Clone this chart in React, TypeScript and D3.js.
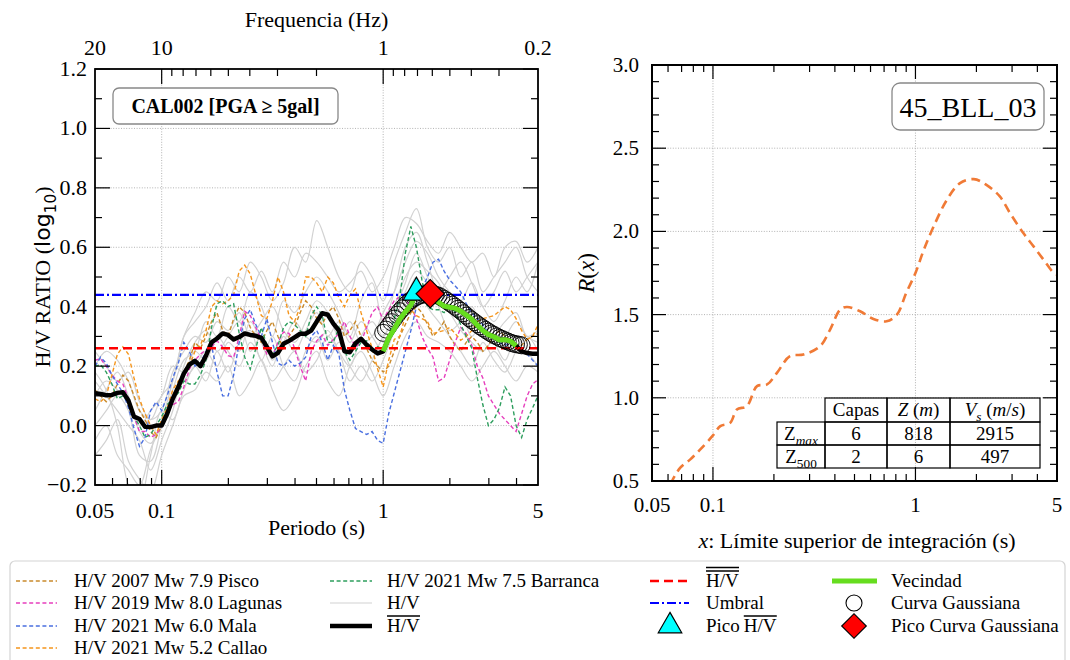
import React, { useEffect, useRef } from "react";
import * as d3 from "d3";

const W = 1070;
const H = 660;
const SERIF = "'Liberation Serif', 'Times New Roman', serif";

// ---------------- LEFT PANEL DATA ----------------
const periods = [
  0.05, 0.053, 0.0562, 0.0596, 0.0631, 0.0668, 0.0708, 0.075, 0.0794, 0.0841, 0.0891, 0.0944, 0.1,
  0.1059, 0.1122, 0.1189, 0.1259, 0.1334, 0.1413, 0.1496, 0.1585, 0.1679, 0.1778, 0.1884, 0.1995,
  0.2113, 0.2239, 0.2371, 0.2512, 0.2661, 0.2818, 0.2985, 0.3162, 0.335, 0.3548, 0.3758, 0.3981,
  0.4217, 0.4467, 0.4732, 0.5012, 0.5309, 0.5623, 0.5957, 0.631, 0.6683, 0.7079, 0.7499, 0.7943,
  0.8414, 0.8913, 0.9441, 1.0,
  1.0593, 1.122, 1.1885, 1.2589, 1.3335, 1.4125, 1.4962, 1.5849, 1.6788, 1.7783, 1.8836, 1.9953,
  2.1135, 2.2387, 2.3714, 2.5119, 2.6607, 2.8184, 2.9854, 3.1623, 3.3497, 3.5481, 3.7584, 3.9811,
  4.217, 4.4668, 4.7315, 5.0,
];

const meanHV = [
  0.109, 0.106, 0.102, 0.103, 0.11, 0.112, 0.084, 0.03, 0.022, -0.004,
  -0.005, 0.0, 0.0, 0.04, 0.09, 0.13, 0.175, 0.205, 0.218, 0.2,
  0.235, 0.28, 0.293, 0.31, 0.305, 0.29, 0.298, 0.31, 0.305, 0.302,
  0.295, 0.265, 0.233, 0.245, 0.275, 0.285, 0.297, 0.309, 0.309, 0.32,
  0.35, 0.378, 0.373, 0.343, 0.32, 0.25, 0.247, 0.277, 0.292, 0.272,
  0.256, 0.243, 0.25, 0.295, 0.325, 0.358, 0.383, 0.405, 0.448, 0.441,
  0.44, 0.435, 0.415, 0.402, 0.398, 0.395, 0.385, 0.372, 0.358, 0.338,
  0.32, 0.306, 0.299, 0.288, 0.289, 0.284, 0.268, 0.25, 0.244, 0.242,
  0.242,
];

const pisco = [
  0.12, 0.1, 0.08, 0.1, 0.14, 0.17, 0.15, 0.1, 0.05, 0.02,
  -0.02, -0.04, 0.0, 0.05, 0.1, 0.14, 0.18, 0.22, 0.28, 0.26,
  0.3, 0.35, 0.38, 0.32, 0.3, 0.36, 0.4, 0.38, 0.33, 0.3,
  0.28, 0.32, 0.35, 0.3, 0.26, 0.3, 0.33, 0.38, 0.42, 0.4,
  0.36, 0.34, 0.38, 0.4, 0.36, 0.3, 0.32, 0.35, 0.3, 0.26,
  0.22, 0.2, 0.18, 0.2, 0.25, 0.3, 0.34, 0.38, 0.4, 0.38,
  0.34, 0.3, 0.32, 0.35, 0.3, 0.27, 0.25, 0.28, 0.3, 0.28,
  0.25, 0.27, 0.3, 0.32, 0.3, 0.28, 0.26, 0.27, 0.29, 0.3,
  0.31,
];

const lagunas = [
  0.22, 0.225, 0.2, 0.17, 0.15, 0.14, 0.09, 0.03, -0.02, -0.02,
  -0.04, -0.03, 0.0, 0.05, 0.07, 0.08, 0.13, 0.19, 0.22, 0.24,
  0.255, 0.265, 0.285, 0.265, 0.235, 0.23, 0.3, 0.385, 0.37, 0.33,
  0.29, 0.24, 0.235, 0.28, 0.315, 0.31, 0.26, 0.2, 0.15, 0.25,
  0.285, 0.305, 0.27, 0.29, 0.31, 0.35, 0.3, 0.265, 0.28, 0.33,
  0.38, 0.4, 0.355, 0.39, 0.42, 0.433, 0.425, 0.4, 0.36, 0.3,
  0.26, 0.23, 0.15, 0.16, 0.22, 0.28, 0.33, 0.31, 0.27, 0.2,
  0.16, 0.1, 0.07, 0.04, 0.02, 0.0, -0.02, 0.04, 0.1, 0.14,
  0.155,
];

const mala = [
  0.2, 0.23, 0.21, 0.17, 0.14, 0.11, 0.06, -0.01, -0.07, -0.04,
  0.05, 0.08, 0.05, 0.1, 0.16, 0.21, 0.28, 0.25, 0.2, 0.21,
  0.25, 0.27, 0.18, 0.1, 0.1, 0.17, 0.28, 0.36, 0.39, 0.34,
  0.3, 0.36, 0.28, 0.21, 0.2, 0.22, 0.2, 0.21, 0.23, 0.3,
  0.32, 0.28, 0.22, 0.27, 0.24, 0.12, 0.05, -0.01, -0.02, -0.03,
  -0.02, -0.05, -0.06, 0.04, 0.11, 0.18, 0.25, 0.32, 0.4, 0.46,
  0.5, 0.55, 0.56, 0.52, 0.49, 0.47, 0.45, 0.41, 0.38, 0.36,
  0.34, 0.31, 0.3, 0.28, 0.27, 0.28, 0.26, 0.25, 0.24, 0.22,
  0.2,
];

const callao = [
  0.09, 0.08, 0.1, 0.17, 0.24, 0.265, 0.24, 0.16, 0.09, 0.04,
  0.0, -0.03, 0.02, 0.06, 0.12, 0.15, 0.17, 0.2, 0.25, 0.27,
  0.32, 0.4, 0.42, 0.41, 0.42, 0.44, 0.52, 0.54, 0.51, 0.44,
  0.37, 0.36, 0.42, 0.5, 0.45, 0.37, 0.35, 0.4, 0.5, 0.5,
  0.48, 0.45, 0.5, 0.48, 0.43, 0.4, 0.44, 0.46, 0.38, 0.32,
  0.26, 0.19, 0.13, 0.22, 0.29, 0.3, 0.37, 0.39, 0.37, 0.36,
  0.35, 0.31, 0.315, 0.32, 0.33, 0.31, 0.287, 0.3, 0.32, 0.35,
  0.36, 0.365, 0.37, 0.385, 0.4, 0.39, 0.36, 0.32, 0.29, 0.3,
  0.34,
];

const barranca = [
  0.2, 0.205, 0.18, 0.14, 0.09, 0.1, 0.08, 0.03, 0.0, -0.04,
  -0.03, 0.0, 0.03, 0.07, 0.09, 0.11, 0.15, 0.14, 0.14, 0.17,
  0.22, 0.33, 0.41, 0.42, 0.4, 0.41, 0.31, 0.23, 0.19, 0.26,
  0.33, 0.27, 0.24, 0.27, 0.33, 0.35, 0.34, 0.32, 0.3, 0.37,
  0.4, 0.37, 0.28, 0.28, 0.33, 0.25, 0.22, 0.25, 0.28, 0.285,
  0.25, 0.265, 0.26, 0.3, 0.36, 0.43, 0.58, 0.67, 0.6, 0.49,
  0.4, 0.39, 0.39, 0.38, 0.41, 0.38, 0.34, 0.3, 0.26, 0.16,
  0.07, 0.0, 0.02, 0.06, 0.13, 0.1, 0.0, -0.04, 0.02, 0.06,
  0.1,
];

const eventNames = [
  "H/V 2007 Mw 7.9 Pisco",
  "H/V 2019 Mw 8.0 Lagunas",
  "H/V 2021 Mw 6.0 Mala",
  "H/V 2021 Mw 5.2 Callao",
  "H/V 2021 Mw 7.5 Barranca",
];
const eventColors = ["#c98a2c", "#e63fbd", "#4a6fe0", "#f5951c", "#2e9e5e"];
const eventSeries = [pisco, lagunas, mala, callao, barranca];

// individual H/V records (grey)
const coarsePeriods = [
  0.05, 0.0562, 0.0631, 0.0708, 0.0794, 0.0891, 0.1, 0.1122, 0.1259, 0.1413, 0.1585, 0.1778,
  0.1995, 0.2239, 0.2512, 0.2818, 0.3162, 0.3548, 0.3981, 0.4467, 0.5012, 0.5623, 0.631, 0.7079,
  0.7943, 0.8913, 1.0, 1.122, 1.2589, 1.4125, 1.5849, 1.7783, 1.9953, 2.2387, 2.5119, 2.8184,
  3.1623, 3.5481, 3.9811, 4.4668, 5.0,
];
const gray1 = [0.05, 0.12, 0.18, 0.1, -0.02, -0.06, 0.02, 0.15, 0.3, 0.38, 0.45, 0.42, 0.5, 0.45, 0.55, 0.5, 0.42, 0.48, 0.6, 0.55, 0.69, 0.6, 0.5, 0.45, 0.55, 0.5, 0.42, 0.55, 0.65, 0.73, 0.6, 0.55, 0.6, 0.5, 0.55, 0.45, 0.5, 0.55, 0.6, 0.5, 0.45];
const gray2 = [-0.1, -0.05, 0.02, -0.12, -0.18, -0.22, -0.1, 0.0, 0.1, 0.12, 0.18, 0.15, 0.2, 0.1, 0.15, 0.22, 0.12, 0.05, 0.1, 0.2, 0.25, 0.15, 0.1, 0.2, 0.25, 0.18, 0.1, 0.2, 0.3, 0.35, 0.3, 0.28, 0.25, 0.2, 0.15, 0.2, 0.25, 0.2, 0.15, 0.2, 0.18];
const gray3 = [0.2, 0.25, 0.22, 0.15, 0.05, 0.02, 0.05, 0.18, 0.25, 0.3, 0.28, 0.35, 0.32, 0.38, 0.3, 0.35, 0.4, 0.32, 0.28, 0.35, 0.42, 0.38, 0.3, 0.35, 0.28, 0.3, 0.38, 0.45, 0.55, 0.62, 0.58, 0.5, 0.45, 0.42, 0.48, 0.4, 0.35, 0.42, 0.5, 0.45, 0.55];
const gray4 = [0.15, 0.1, 0.05, 0.0, -0.05, -0.15, -0.05, 0.05, 0.2, 0.28, 0.32, 0.25, 0.3, 0.35, 0.25, 0.3, 0.22, 0.28, 0.35, 0.3, 0.28, 0.32, 0.25, 0.2, 0.3, 0.35, 0.3, 0.4, 0.5, 0.55, 0.52, 0.48, 0.4, 0.38, 0.3, 0.35, 0.28, 0.3, 0.35, 0.3, 0.28];
const gray5 = [0.0, 0.05, 0.1, 0.05, -0.1, -0.12, 0.0, 0.12, 0.22, 0.25, 0.35, 0.3, 0.4, 0.35, 0.45, 0.4, 0.3, 0.42, 0.38, 0.45, 0.5, 0.45, 0.38, 0.3, 0.42, 0.48, 0.35, 0.45, 0.6, 0.65, 0.55, 0.45, 0.5, 0.55, 0.48, 0.4, 0.45, 0.52, 0.45, 0.5, 0.55];
const gray6 = [0.1, 0.15, 0.12, 0.08, 0.0, 0.05, 0.1, 0.2, 0.18, 0.25, 0.22, 0.3, 0.25, 0.2, 0.28, 0.22, 0.15, 0.2, 0.25, 0.18, 0.22, 0.3, 0.25, 0.15, 0.2, 0.15, 0.22, 0.32, 0.42, 0.5, 0.4, 0.35, 0.3, 0.25, 0.2, 0.28, 0.22, 0.18, 0.25, 0.3, 0.25];
const gray7 = [-0.05, 0.0, -0.1, -0.15, -0.2, -0.08, 0.0, 0.1, 0.15, 0.2, 0.25, 0.2, 0.28, 0.25, 0.35, 0.28, 0.2, 0.3, 0.25, 0.32, 0.38, 0.3, 0.35, 0.28, 0.35, 0.3, 0.25, 0.38, 0.48, 0.58, 0.5, 0.42, 0.38, 0.32, 0.28, 0.25, 0.3, 0.35, 0.38, 0.3, 0.32];
const gray8 = [0.25, 0.2, 0.15, 0.18, 0.08, 0.02, 0.1, 0.15, 0.3, 0.35, 0.4, 0.48, 0.42, 0.5, 0.45, 0.52, 0.45, 0.55, 0.5, 0.58, 0.55, 0.5, 0.45, 0.48, 0.52, 0.45, 0.5, 0.6, 0.7, 0.68, 0.62, 0.58, 0.65, 0.6, 0.55, 0.58, 0.5, 0.6, 0.62, 0.55, 0.6];
const gray9 = [0.18, 0.12, 0.0, -0.2, -0.25, -0.1, 0.05, 0.02, 0.12, 0.2, 0.15, 0.25, 0.18, 0.28, 0.32, 0.22, 0.3, 0.2, 0.15, 0.25, 0.3, 0.22, 0.28, 0.2, 0.15, 0.22, 0.3, 0.35, 0.45, 0.52, 0.48, 0.4, 0.32, 0.35, 0.4, 0.32, 0.28, 0.22, 0.3, 0.25, 0.2];
const grayRecords = [gray1, gray2, gray3, gray4, gray5, gray6, gray7, gray8, gray9];

// Gaussian fit
const gaussPeriods = [
  1.0, 1.0292, 1.0593, 1.0902, 1.122, 1.1548, 1.1885, 1.2232, 1.2589, 1.2957,
  1.3335, 1.3725, 1.4125, 1.4538, 1.4962, 1.5399, 1.5849, 1.6312, 1.6788, 1.7278,
  1.7783, 1.8302, 1.8836, 1.9387, 1.9953, 2.0535, 2.1135, 2.1752, 2.2387, 2.3041,
  2.3714, 2.4406, 2.5119, 2.5852, 2.6607, 2.7384, 2.8184, 2.9007, 2.9854, 3.0726,
  3.1623, 3.2546, 3.3497, 3.4475, 3.5481, 3.6517, 3.7584, 3.8681, 3.9811, 4.0973, 4.217,
];
const gaussValues = [
  0.312, 0.323, 0.335, 0.348, 0.36, 0.373, 0.385, 0.395, 0.405, 0.414,
  0.422, 0.428, 0.433, 0.437, 0.44, 0.442, 0.443, 0.444, 0.443, 0.44,
  0.437, 0.432, 0.426, 0.42, 0.413, 0.407, 0.4, 0.393, 0.386, 0.378,
  0.37, 0.362, 0.355, 0.348, 0.341, 0.334, 0.328, 0.322, 0.316, 0.31,
  0.305, 0.3, 0.295, 0.291, 0.287, 0.283, 0.279, 0.276, 0.274, 0.272, 0.27,
];

const meanOfMean = 0.26;
const umbral = 0.44;
const vecindadRange = [1.0, 4.0];

const leftYTicks = [-0.2, 0, 0.2, 0.4, 0.6, 0.8, 1.0, 1.2];
const leftYMinor = [-0.1, 0.1, 0.3, 0.5, 0.7, 0.9, 1.1];
const periodTickLabels = [0.05, 0.1, 1, 5];
const periodMajor = [0.1, 1];
const periodMinor = [0.06, 0.07, 0.08, 0.09, 0.2, 0.3, 0.4, 0.5, 0.6, 0.7, 0.8, 0.9, 2, 3, 4];
const freqTickLabels = [20, 10, 1, 0.2];
const freqMajor = [10, 1];
const freqMinor = [9, 8, 7, 6, 5, 4, 3, 2, 0.9, 0.8, 0.7, 0.6, 0.5, 0.4, 0.3];

// ---------------- RIGHT PANEL DATA ----------------
const rPeriods = [
  0.058, 0.0628, 0.069, 0.0773, 0.0866, 0.1, 0.1087, 0.1217, 0.1313, 0.147,
  0.165, 0.185, 0.207, 0.24, 0.28, 0.338, 0.379, 0.425, 0.458, 0.533,
  0.62, 0.72, 0.81, 0.9, 1.0, 1.1, 1.23, 1.43, 1.66, 1.94,
  2.24, 2.61, 2.93, 3.41, 3.83, 4.29, 4.82, 5.0,
];
const rValues = [
  0.4, 0.5, 0.58, 0.63, 0.69, 0.774, 0.83, 0.85, 0.93, 0.95,
  1.07, 1.08, 1.15, 1.25, 1.26, 1.31, 1.41, 1.53, 1.546, 1.52,
  1.474, 1.46, 1.5, 1.63, 1.75, 1.89, 2.03, 2.19, 2.29, 2.314,
  2.28, 2.21, 2.11, 1.99, 1.91, 1.83, 1.75, 1.74,
];
const rightYTicks = [0.5, 1.0, 1.5, 2.0, 2.5, 3.0];
const rightYMinor = [0.6, 0.7, 0.8, 0.9, 1.1, 1.2, 1.3, 1.4, 1.6, 1.7, 1.8, 1.9, 2.1, 2.2, 2.3, 2.4, 2.6, 2.7, 2.8, 2.9];
const tableRowLabels = ["max", "500"];
const tableCapas = [6, 2];
const tableZ = [818, 6];
const tableVs = [2915, 497];
const siteLabel = "45_BLL_03";
const stationLabel = "CAL002 [PGA \u2265 5gal]";

type Part = { t: string; it?: boolean; sub?: boolean; sans?: boolean };

function rich(g: any, x: number, y: number, parts: Part[], size: number, anchor = "middle", transform?: string) {
  const t = g
    .append("text")
    .attr("x", x)
    .attr("y", y)
    .attr("font-family", SERIF)
    .attr("font-size", size)
    .attr("text-anchor", anchor)
    .attr("fill", "#000");
  if (transform) t.attr("transform", transform);
  let shifted = false;
  parts.forEach((p) => {
    const s = t.append("tspan").text(p.t);
    if (p.it) s.attr("font-style", "italic");
    if (p.sans) s.attr("font-family", "'DejaVu Sans', sans-serif");
    if (p.sub) {
      s.attr("font-size", size * 0.7).attr("dy", shifted ? 0 : size * 0.28);
      shifted = true;
    } else if (shifted) {
      s.attr("dy", -size * 0.28);
      shifted = false;
    }
  });
  return t;
}

function draw(svgEl: SVGSVGElement) {
  const svg = d3.select(svgEl);
  svg.selectAll("*").remove();
  svg.append("rect").attr("width", W).attr("height", H).attr("fill", "#fff");
  const defs = svg.append("defs");

  // ================= LEFT PANEL =================
  const L = { x0: 95, x1: 538, y0: 69, y1: 485 };
  const xL = d3.scaleLog().domain([0.05, 5]).range([L.x0, L.x1]);
  const yL = d3.scaleLinear().domain([-0.2, 1.2]).range([L.y1, L.y0]);
  defs.append("clipPath").attr("id", "clipL").append("rect")
    .attr("x", L.x0).attr("y", L.y0).attr("width", L.x1 - L.x0).attr("height", L.y1 - L.y0);

  const gL = svg.append("g");
  periodMajor.forEach((p) =>
    gL.append("line").attr("x1", xL(p)).attr("x2", xL(p)).attr("y1", L.y0).attr("y2", L.y1)
      .attr("stroke", "#aaa").attr("stroke-width", 0.9).attr("stroke-dasharray", "1,1.6"));
  leftYTicks.filter((v) => v > -0.2 && v < 1.2).forEach((v) =>
    gL.append("line").attr("x1", L.x0).attr("x2", L.x1).attr("y1", yL(v)).attr("y2", yL(v))
      .attr("stroke", "#aaa").attr("stroke-width", 0.9).attr("stroke-dasharray", "1,1.6"));

  const plot = gL.append("g").attr("clip-path", "url(#clipL)");
  const lineL = d3.line<[number, number]>().x((d) => xL(d[0])).y((d) => yL(d[1]));
  const lineLsmooth = d3.line<[number, number]>().x((d) => xL(d[0])).y((d) => yL(d[1])).curve(d3.curveCatmullRom);

  grayRecords.forEach((vals) =>
    plot.append("path")
      .attr("d", lineLsmooth(coarsePeriods.map((p, i) => [p, vals[i]] as [number, number])))
      .attr("fill", "none").attr("stroke", "#d2d2d2").attr("stroke-width", 1.2));

  eventSeries.forEach((vals, k) =>
    plot.append("path")
      .attr("d", lineL(periods.map((p, i) => [p, vals[i]] as [number, number])))
      .attr("fill", "none").attr("stroke", eventColors[k]).attr("stroke-width", 1.4)
      .attr("stroke-dasharray", "4,2.6"));

  plot.append("path")
    .attr("d", lineL(periods.map((p, i) => [p, meanHV[i]] as [number, number])))
    .attr("fill", "none").attr("stroke", "#000").attr("stroke-width", 4.5)
    .attr("stroke-linejoin", "round");

  plot.append("line").attr("x1", L.x0).attr("x2", L.x1).attr("y1", yL(meanOfMean)).attr("y2", yL(meanOfMean))
    .attr("stroke", "#ff0000").attr("stroke-width", 2.6).attr("stroke-dasharray", "9,5");
  plot.append("line").attr("x1", L.x0).attr("x2", L.x1).attr("y1", yL(umbral)).attr("y2", yL(umbral))
    .attr("stroke", "#0000ff").attr("stroke-width", 2.2).attr("stroke-dasharray", "9,3,2,3");

  gaussPeriods.forEach((p, i) =>
    plot.append("circle").attr("cx", xL(p)).attr("cy", yL(gaussValues[i])).attr("r", 8.5)
      .attr("fill", "none").attr("stroke", "#000").attr("stroke-width", 0.9));

  const vec = periods
    .map((p, i) => [p, meanHV[i]] as [number, number])
    .filter((d) => d[0] >= vecindadRange[0] - 1e-9 && d[0] <= vecindadRange[1]);
  plot.append("path").attr("d", lineL(vec)).attr("fill", "none")
    .attr("stroke", "#66dd1f").attr("stroke-width", 5).attr("stroke-linejoin", "round");

  const iPeak = d3.maxIndex(vec, (d) => d[1]);
  const tri = d3.symbol().type(d3.symbolTriangle).size(300);
  plot.append("path").attr("d", tri()).attr("transform", `translate(${xL(vec[iPeak][0])},${yL(vec[iPeak][1])})`)
    .attr("fill", "#00ffff").attr("stroke", "#000").attr("stroke-width", 1.2);
  const gPeak = d3.maxIndex(gaussValues);
  const sq = d3.symbol().type(d3.symbolSquare).size(400);
  plot.append("path").attr("d", sq())
    .attr("transform", `translate(${xL(gaussPeriods[gPeak])},${yL(gaussValues[gPeak])}) rotate(45)`)
    .attr("fill", "#ff0000").attr("stroke", "#000").attr("stroke-width", 1.2);

  const tk = (x1: number, y1: number, x2: number, y2: number) =>
    gL.append("line").attr("x1", x1).attr("y1", y1).attr("x2", x2).attr("y2", y2)
      .attr("stroke", "#000").attr("stroke-width", 1.2);
  periodMajor.forEach((p) => tk(xL(p), L.y1, xL(p), L.y1 - 15));
  periodMinor.forEach((p) => tk(xL(p), L.y1, xL(p), L.y1 - 7));
  freqMajor.forEach((f) => tk(xL(1 / f), L.y0, xL(1 / f), L.y0 + 15));
  freqMinor.forEach((f) => tk(xL(1 / f), L.y0, xL(1 / f), L.y0 + 7));
  leftYTicks.forEach((v) => { tk(L.x0, yL(v), L.x0 + 15, yL(v)); tk(L.x1, yL(v), L.x1 - 15, yL(v)); });
  leftYMinor.forEach((v) => { tk(L.x0, yL(v), L.x0 + 7, yL(v)); tk(L.x1, yL(v), L.x1 - 7, yL(v)); });

  gL.append("rect").attr("x", L.x0).attr("y", L.y0).attr("width", L.x1 - L.x0).attr("height", L.y1 - L.y0)
    .attr("fill", "none").attr("stroke", "#000").attr("stroke-width", 1.8);

  const fmtY = (v: number) => (v < 0 ? "\u2212" + Math.abs(v).toFixed(1) : v.toFixed(1));
  leftYTicks.forEach((v) =>
    gL.append("text").attr("x", 87).attr("y", yL(v) + 7).attr("text-anchor", "end")
      .attr("font-family", SERIF).attr("font-size", 22).text(fmtY(v)));
  periodTickLabels.forEach((p) =>
    gL.append("text").attr("x", xL(p)).attr("y", 518).attr("text-anchor", "middle")
      .attr("font-family", SERIF).attr("font-size", 22).text(String(p)));
  freqTickLabels.forEach((f) =>
    gL.append("text").attr("x", xL(1 / f)).attr("y", 55).attr("text-anchor", "middle")
      .attr("font-family", SERIF).attr("font-size", 22).text(String(f)));
  gL.append("text").attr("x", (L.x0 + L.x1) / 2).attr("y", 535).attr("text-anchor", "middle")
    .attr("font-family", SERIF).attr("font-size", 22).text("Periodo (s)");
  gL.append("text").attr("x", (L.x0 + L.x1) / 2).attr("y", 27).attr("text-anchor", "middle")
    .attr("font-family", SERIF).attr("font-size", 22).text("Frequencia (Hz)");
  rich(gL, 0, 0, [
    { t: "H/V RATIO (" },
    { t: "log", sans: true },
    { t: "10", sans: true, sub: true },
    { t: ")" },
  ], 22, "middle", "translate(50,277) rotate(-90)");

  gL.append("rect").attr("x", 113).attr("y", 88).attr("width", 225).attr("height", 36).attr("rx", 6)
    .attr("fill", "#fff").attr("stroke", "#888").attr("stroke-width", 1.3);
  gL.append("text").attr("x", 225.5).attr("y", 113).attr("text-anchor", "middle")
    .attr("font-family", SERIF).attr("font-weight", "bold").attr("font-size", 20).text(stationLabel);

  // ================= RIGHT PANEL =================
  const R = { x0: 652, x1: 1057, y0: 65, y1: 481 };
  const xR = d3.scaleLog().domain([0.05, 5]).range([R.x0, R.x1]);
  const yR = d3.scaleLinear().domain([0.5, 3.0]).range([R.y1, R.y0]);
  defs.append("clipPath").attr("id", "clipR").append("rect")
    .attr("x", R.x0).attr("y", R.y0).attr("width", R.x1 - R.x0).attr("height", R.y1 - R.y0);
  const gR = svg.append("g");
  periodMajor.forEach((p) =>
    gR.append("line").attr("x1", xR(p)).attr("x2", xR(p)).attr("y1", R.y0).attr("y2", R.y1)
      .attr("stroke", "#aaa").attr("stroke-width", 0.9).attr("stroke-dasharray", "1,1.6"));
  rightYTicks.filter((v) => v > 0.5 && v < 3).forEach((v) =>
    gR.append("line").attr("x1", R.x0).attr("x2", R.x1).attr("y1", yR(v)).attr("y2", yR(v))
      .attr("stroke", "#aaa").attr("stroke-width", 0.9).attr("stroke-dasharray", "1,1.6"));

  const plotR = gR.append("g").attr("clip-path", "url(#clipR)");
  const lineR = d3.line<[number, number]>().x((d) => xR(d[0])).y((d) => yR(d[1])).curve(d3.curveCatmullRom);
  plotR.append("path").attr("d", lineR(rPeriods.map((p, i) => [p, rValues[i]] as [number, number])))
    .attr("fill", "none").attr("stroke", "#f07a36").attr("stroke-width", 2.6).attr("stroke-dasharray", "9,5.5");

  const tkR = (x1: number, y1: number, x2: number, y2: number) =>
    gR.append("line").attr("x1", x1).attr("y1", y1).attr("x2", x2).attr("y2", y2)
      .attr("stroke", "#000").attr("stroke-width", 1.2);
  periodMajor.forEach((p) => { tkR(xR(p), R.y1, xR(p), R.y1 - 14); tkR(xR(p), R.y0, xR(p), R.y0 + 14); });
  periodMinor.forEach((p) => { tkR(xR(p), R.y1, xR(p), R.y1 - 7); tkR(xR(p), R.y0, xR(p), R.y0 + 7); });
  rightYTicks.forEach((v) => { tkR(R.x0, yR(v), R.x0 + 14, yR(v)); tkR(R.x1, yR(v), R.x1 - 14, yR(v)); });
  rightYMinor.forEach((v) => { tkR(R.x0, yR(v), R.x0 + 7, yR(v)); tkR(R.x1, yR(v), R.x1 - 7, yR(v)); });

  const colX = [777, 825, 887, 950, 1040];
  const rowY = [398, 422, 445, 468];
  const tg = gR.append("g");
  for (let c = 1; c < 4; c++)
    tg.append("rect").attr("x", colX[c]).attr("y", rowY[0]).attr("width", colX[c + 1] - colX[c])
      .attr("height", rowY[1] - rowY[0]).attr("fill", "none").attr("stroke", "#000").attr("stroke-width", 1.2);
  for (let r = 1; r < 3; r++)
    for (let c = 0; c < 4; c++)
      tg.append("rect").attr("x", colX[c]).attr("y", rowY[r]).attr("width", colX[c + 1] - colX[c])
        .attr("height", rowY[r + 1] - rowY[r]).attr("fill", "none").attr("stroke", "#000").attr("stroke-width", 1.2);
  const cx = (c: number) => (colX[c] + colX[c + 1]) / 2;
  const by = (r: number) => (rowY[r] + rowY[r + 1]) / 2 + 6;
  rich(tg, cx(1), by(0), [{ t: "Capas" }], 19);
  rich(tg, cx(2), by(0), [{ t: "Z", it: true }, { t: " (" }, { t: "m", it: true }, { t: ")" }], 19);
  rich(tg, cx(3), by(0), [{ t: "V", it: true }, { t: "s", it: true, sub: true }, { t: " (" }, { t: "m", it: true }, { t: "/" }, { t: "s", it: true }, { t: ")" }], 19);
  tableRowLabels.forEach((lab, r) => {
    rich(tg, cx(0), by(r + 1), [{ t: "Z" }, { t: lab, it: lab === "max", sub: true }], 19);
    rich(tg, cx(1), by(r + 1), [{ t: String(tableCapas[r]) }], 19);
    rich(tg, cx(2), by(r + 1), [{ t: String(tableZ[r]) }], 19);
    rich(tg, cx(3), by(r + 1), [{ t: String(tableVs[r]) }], 19);
  });

  gR.append("rect").attr("x", R.x0).attr("y", R.y0).attr("width", R.x1 - R.x0).attr("height", R.y1 - R.y0)
    .attr("fill", "none").attr("stroke", "#000").attr("stroke-width", 2);

  rightYTicks.forEach((v) =>
    gR.append("text").attr("x", 639).attr("y", yR(v) + 7).attr("text-anchor", "end")
      .attr("font-family", SERIF).attr("font-size", 21).text(v.toFixed(1)));
  periodTickLabels.forEach((p) =>
    gR.append("text").attr("x", xR(p)).attr("y", 512).attr("text-anchor", "middle")
      .attr("font-family", SERIF).attr("font-size", 21).text(String(p)));
  rich(gR, 857, 548, [{ t: "x", it: true }, { t: ": L\u00edmite superior de integraci\u00f3n (s)" }], 22);
  rich(gR, 0, 0, [{ t: "R", it: true }, { t: "(" }, { t: "x", it: true }, { t: ")" }], 23, "middle",
    "translate(594,273) rotate(-90)");

  gR.append("rect").attr("x", 892).attr("y", 83).attr("width", 152).attr("height", 47).attr("rx", 8)
    .attr("fill", "#fff").attr("stroke", "#888").attr("stroke-width", 1.3);
  gR.append("text").attr("x", 968).attr("y", 117).attr("text-anchor", "middle")
    .attr("font-family", SERIF).attr("font-size", 28).text(siteLabel);

  // ================= LEGEND =================
  const lg = svg.append("g");
  lg.append("rect").attr("x", 10).attr("y", 561).attr("width", 1055).attr("height", 130).attr("rx", 5)
    .attr("fill", "#fff").attr("stroke", "#d4d4d4").attr("stroke-width", 1.2);
  const rowsY = [581, 603, 626, 648];
  const FS = 19;
  const label = (x: number, y: number, s: string) =>
    lg.append("text").attr("x", x).attr("y", y + 6).attr("font-family", SERIF).attr("font-size", FS).text(s);
  const sample = (x1: number, x2: number, y: number, color: string, w: number, dash?: string) => {
    const l = lg.append("line").attr("x1", x1).attr("x2", x2).attr("y1", y).attr("y2", y)
      .attr("stroke", color).attr("stroke-width", w);
    if (dash) l.attr("stroke-dasharray", dash);
  };
  const overline = (t: any, y: number, n: number) => {
    const node = t.node() as SVGTextElement;
    const bb = node.getBBox();
    for (let i = 0; i < n; i++)
      lg.append("line").attr("x1", bb.x).attr("x2", bb.x + bb.width)
        .attr("y1", y - i * 3.5).attr("y2", y - i * 3.5).attr("stroke", "#000").attr("stroke-width", 1.6);
  };

  for (let k = 0; k < 4; k++) {
    sample(16, 57, rowsY[k], eventColors[k], 1.4, "4,2.6");
    label(74, rowsY[k], eventNames[k]);
  }
  sample(330, 372, rowsY[0], eventColors[4], 1.4, "4,2.6");
  label(387, rowsY[0], eventNames[4]);
  sample(330, 372, rowsY[1], "#d2d2d2", 1.2);
  label(387, rowsY[1], "H/V");
  sample(330, 372, rowsY[2], "#000", 4.5);
  const hvBar = label(387, rowsY[2], "H/V");
  overline(hvBar, rowsY[2] - 10, 1);
  sample(650, 689, rowsY[0], "#ff0000", 2.6, "9,5");
  const hvBar2 = label(706, rowsY[0], "H/V");
  overline(hvBar2, rowsY[0] - 10, 2);
  sample(650, 689, rowsY[1], "#0000ff", 2.2, "9,3,2,3");
  label(706, rowsY[1], "Umbral");
  lg.append("path").attr("d", d3.symbol().type(d3.symbolTriangle).size(240)())
    .attr("transform", `translate(670,${rowsY[2]})`).attr("fill", "#00ffff").attr("stroke", "#000").attr("stroke-width", 1.2);
  const pico = label(706, rowsY[2], "Pico");
  const pw = (pico.node() as SVGTextElement).getComputedTextLength();
  const hvBar3 = label(706 + pw + 4, rowsY[2], "H/V");
  overline(hvBar3, rowsY[2] - 10, 1);
  sample(832, 877, rowsY[0], "#66dd1f", 5);
  label(891, rowsY[0], "Vecindad");
  lg.append("circle").attr("cx", 854).attr("cy", rowsY[1]).attr("r", 8)
    .attr("fill", "none").attr("stroke", "#000").attr("stroke-width", 1.1);
  label(891, rowsY[1], "Curva Gaussiana");
  lg.append("path").attr("d", d3.symbol().type(d3.symbolSquare).size(300)())
    .attr("transform", `translate(854,${rowsY[2]}) rotate(45)`).attr("fill", "#ff0000").attr("stroke", "#000").attr("stroke-width", 1.2);
  label(891, rowsY[2], "Pico Curva Gaussiana");
}

export default function App() {
  const ref = useRef<SVGSVGElement>(null);
  useEffect(() => {
    if (ref.current) draw(ref.current);
  }, []);
  return (
    <svg
      ref={ref}
      width={W}
      height={H}
      style={{ position: "absolute", left: 0, top: 0, display: "block", fontFamily: SERIF }}
    />
  );
}
